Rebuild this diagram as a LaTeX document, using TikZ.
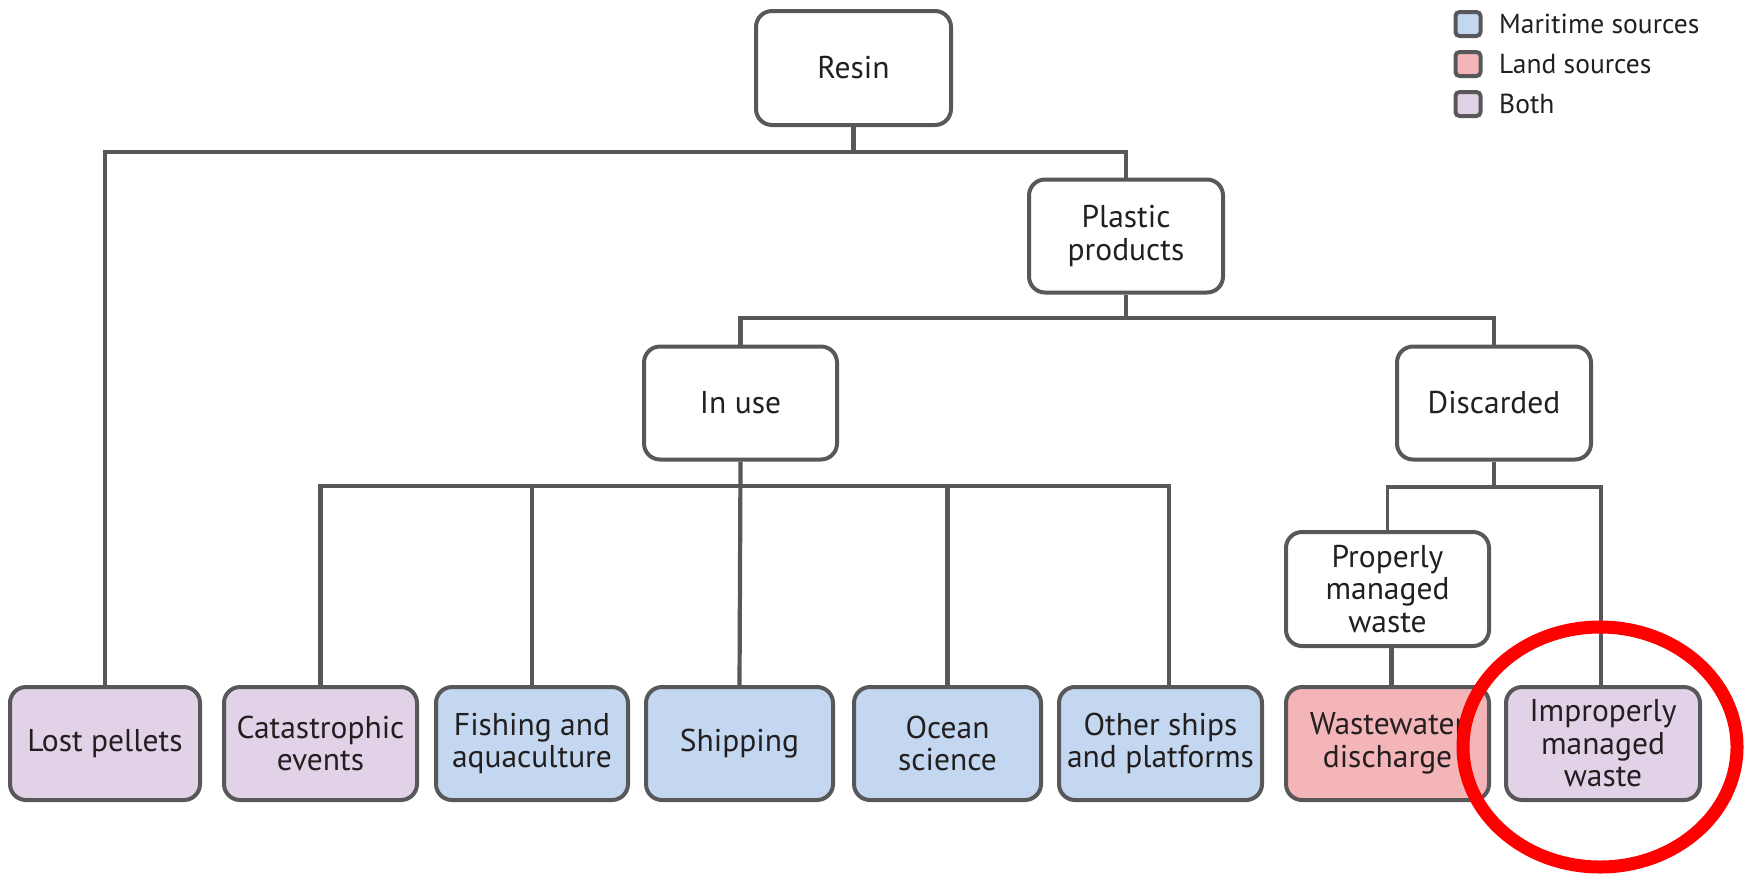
\documentclass[tikz,border=0pt]{standalone}
\usepackage{fontspec}
\setmainfont{PT Sans}
\usetikzlibrary{calc}
\definecolor{edge}{HTML}{58585A}
\definecolor{txt}{HTML}{231F20}
\definecolor{maritime}{HTML}{C3D7F0}
\definecolor{land}{HTML}{F4B5B9}
\definecolor{both}{HTML}{E2D2E7}
\definecolor{hlred}{HTML}{FF0000}
\tikzset{
  box/.style={draw=edge, line width=4pt, rounded corners=16pt, fill=white,
    align=center, inner sep=0pt, text=txt,
    font=\fontsize{31.5}{32.5}\selectfont},
  legbox/.style={draw=edge, line width=4pt, rounded corners=4pt,
    minimum width=25pt, minimum height=24pt, inner sep=0pt},
  legtext/.style={anchor=base west, inner sep=0pt, text=txt,
    font=\fontsize{27.5}{29}\selectfont},
  conn/.style={draw=edge, line width=4.2pt},
}
\begin{document}
\begin{tikzpicture}[x=1pt,y=-1pt]
\useasboundingbox (0,0) rectangle (1744,876);
% upper boxes
\node[box, minimum width=195pt, minimum height=114pt] (resin) at (853.5,68) {Resin};
\node[box, minimum width=194pt, minimum height=113pt] (plastic) at (1126,236) {Plastic\\products};
\node[box, minimum width=193pt, minimum height=113pt] (inuse) at (740.5,403) {In use};
\node[box, minimum width=194pt, minimum height=113pt] (discarded) at (1494,403) {Discarded};
\node[box, minimum width=203pt, minimum height=114pt] (properly) at (1387.5,589) {Properly\\managed\\waste};
% bottom row
\node[box, fill=both, minimum width=190pt, minimum height=113pt] (lost) at (105,743.5) {Lost pellets};
\node[box, fill=both, minimum width=193pt, minimum height=113pt] (cat) at (320.5,743.5) {Catastrophic\\events};
\node[box, fill=maritime, minimum width=192pt, minimum height=113pt] (fish) at (532,743.5) {Fishing and\\aquaculture};
\node[box, fill=maritime, minimum width=187pt, minimum height=113pt] (ship) at (739.5,743.5) {Shipping};
\node[box, fill=maritime, minimum width=187pt, minimum height=113pt] (ocean) at (947.5,743.5) {Ocean\\science};
\node[box, fill=maritime, minimum width=203pt, minimum height=113pt] (other) at (1160.5,743.5) {Other ships\\and platforms};
\node[box, fill=land, minimum width=203pt, minimum height=113pt] (waste) at (1387.5,743.5) {Wastewater\\discharge};
\node[box, fill=both, minimum width=194pt, minimum height=113pt] (improp) at (1603,743.5) {Improperly\\managed\\waste};
% bus coordinates
\coordinate (b1) at (853.5,152);
\coordinate (b2) at (1126,318);
\coordinate (b3) at (740.5,486);
\coordinate (b4) at (1494,487);
% connectors
\draw[conn] (resin.south) -- (b1);
\draw[conn] (lost.north) -- (lost.north |- b1) -- (plastic.north |- b1) -- (plastic.north);
\draw[conn] (plastic.south) -- (b2);
\draw[conn] (inuse.north) -- (inuse.north |- b2) -- (discarded.north |- b2) -- (discarded.north);
\draw[conn] (inuse.south) -- (ship.north);
\draw[conn] (cat.north) -- (cat.north |- b3) -- ([xshift=8.5pt]other.north |- b3) -- ([xshift=8.5pt]other.north);
\draw[conn] (fish.north) -- (fish.north |- b3);
\draw[conn] (ocean.north) -- (ocean.north |- b3);
\draw[conn, line width=3.5pt] (discarded.south) -- (b4);
\draw[conn, line width=3.5pt] (properly.north) -- (properly.north |- b4) -- ([xshift=-2pt]improp.north |- b4) -- ([xshift=-2pt]improp.north);
\draw[conn, line width=5pt] ([xshift=4pt]properly.south) -- ([xshift=4pt]waste.north);
% legend
\node[legbox, fill=maritime] (lm) at (1468,24) {};
\node[legbox, fill=land] (ll) at (1468,64) {};
\node[legbox, fill=both] (lb) at (1468,104) {};
\node[legtext] (tm) at (1499,33) {Maritime sources};
\node[legtext] (tl) at (1499,73) {Land sources};
\node[legtext] (tb) at (1499,113) {Both};
% highlight
\draw[hlred, line width=13pt] (1600,747) ellipse [x radius=137pt, y radius=120pt];
\end{tikzpicture}
\end{document}
